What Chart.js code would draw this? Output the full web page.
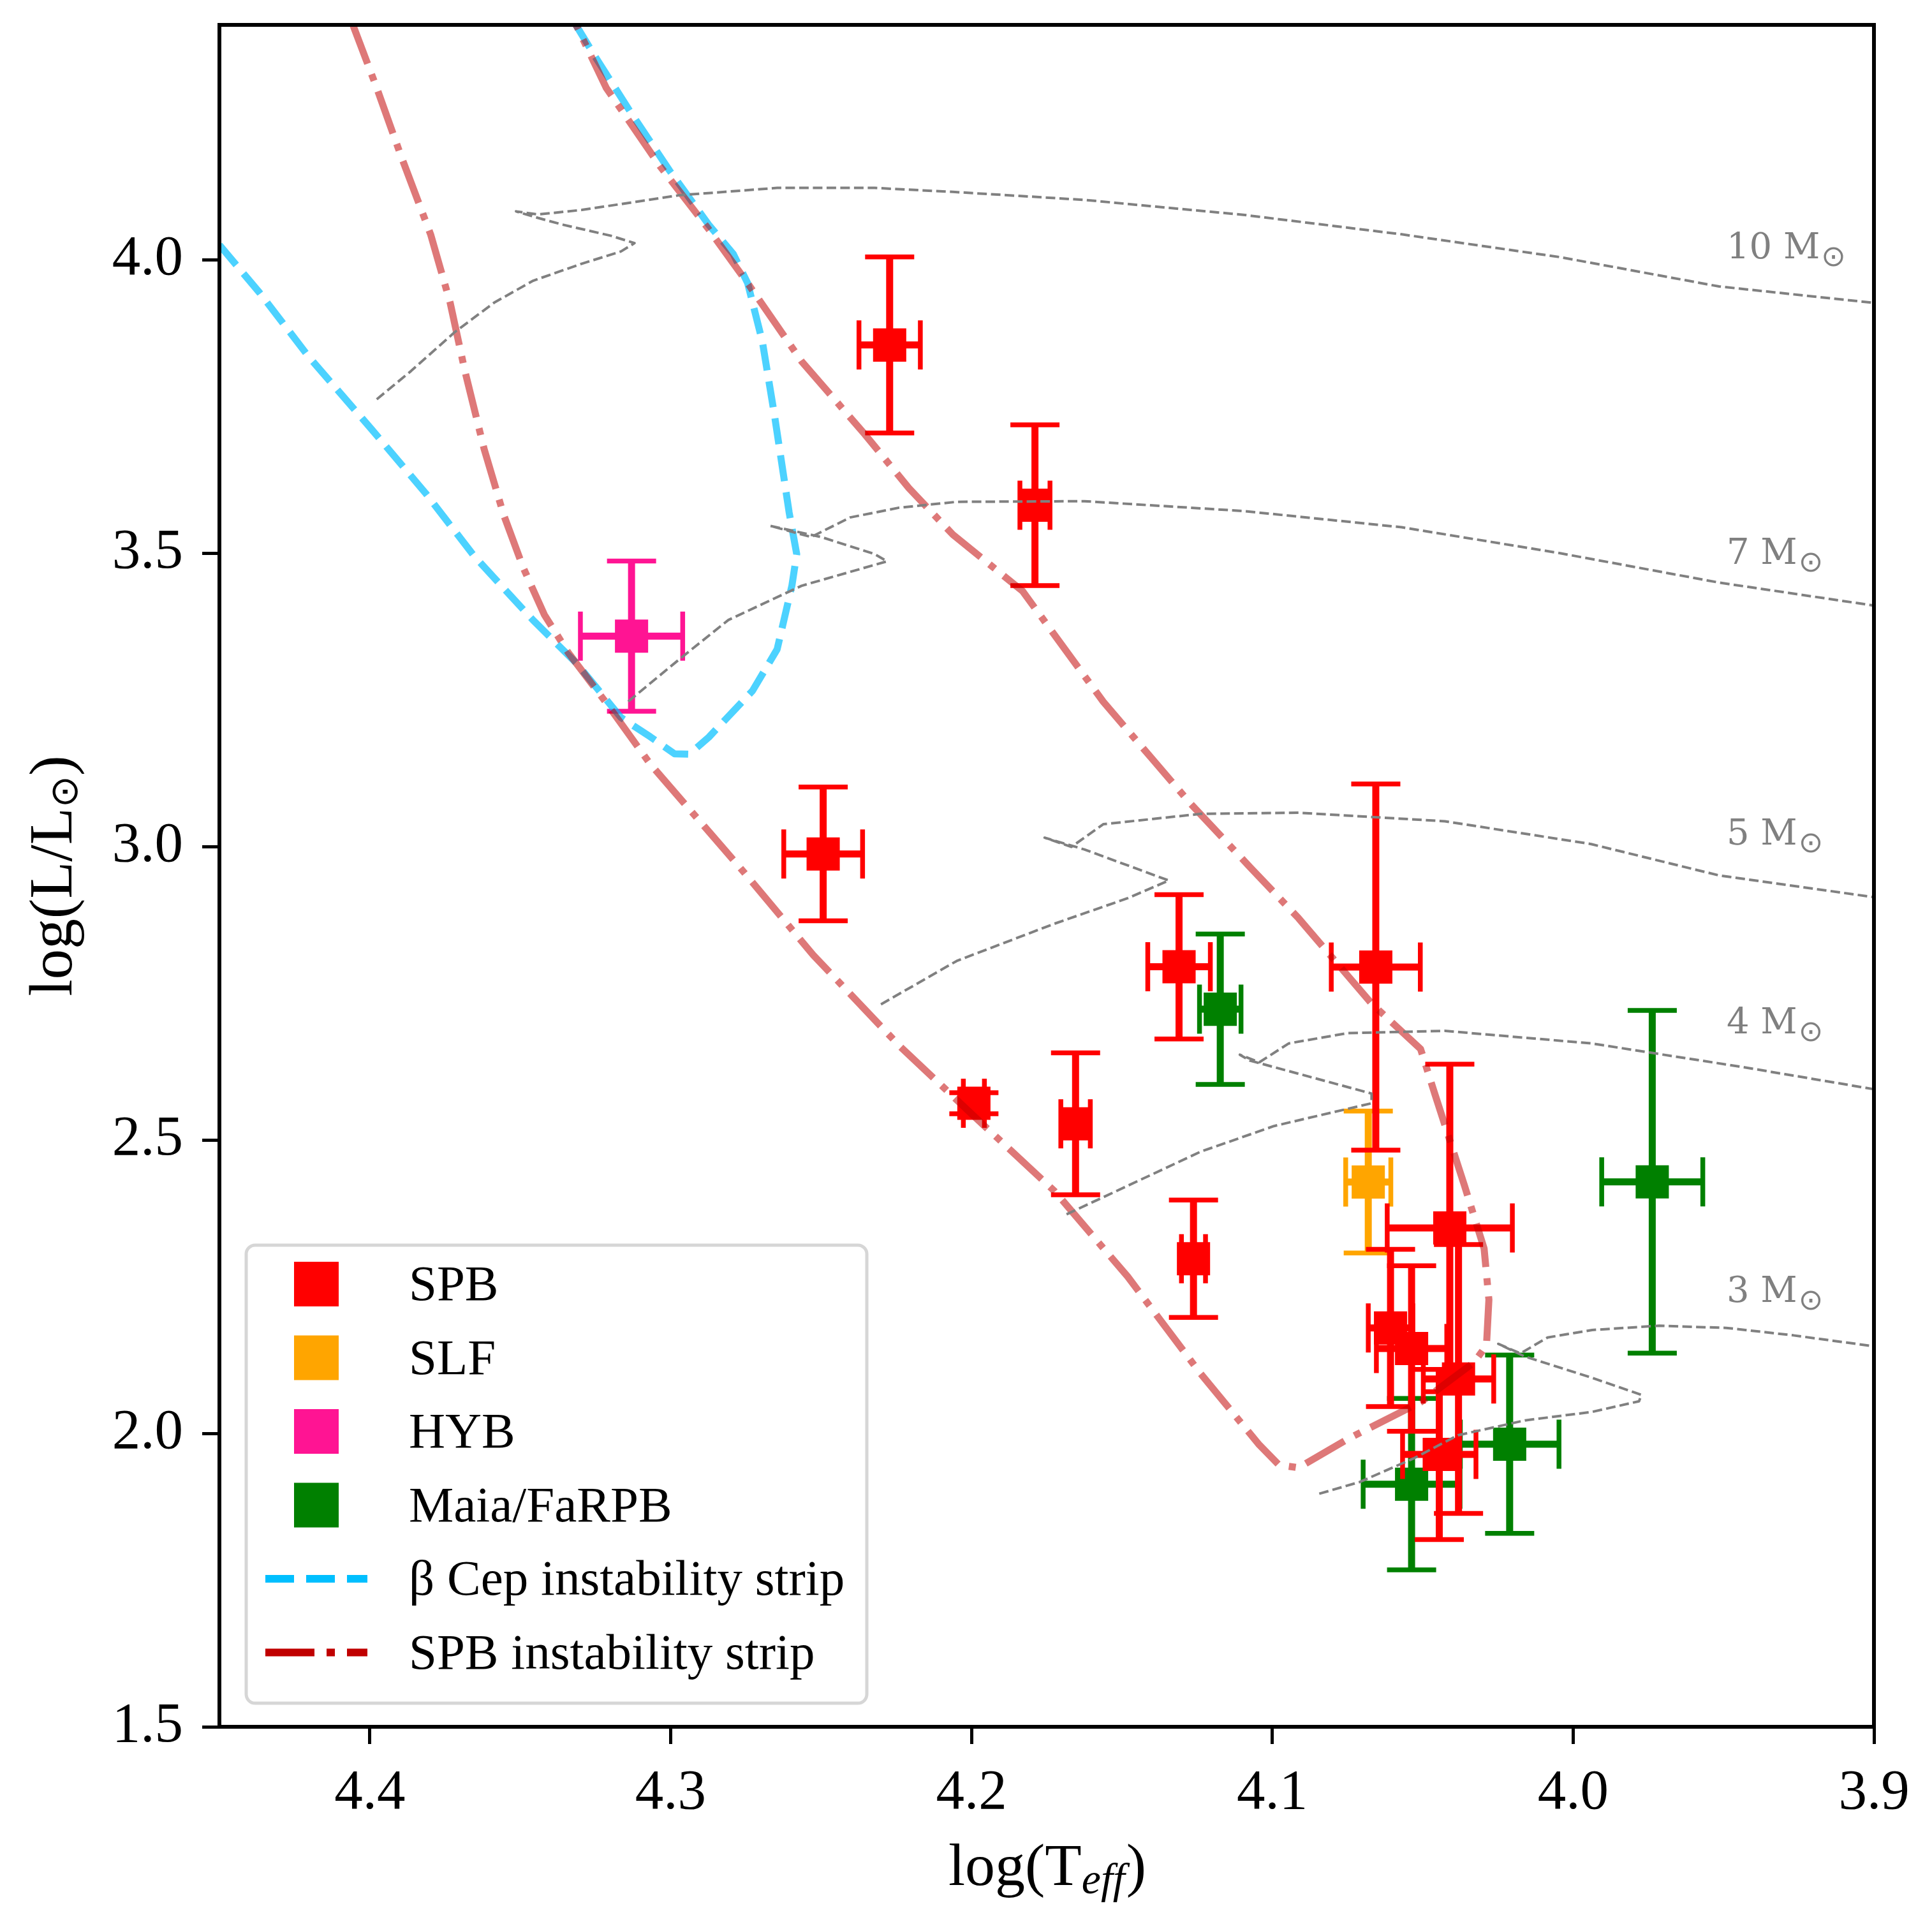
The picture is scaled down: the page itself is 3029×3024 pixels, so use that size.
<!DOCTYPE html>
<html>
<head>
<meta charset="utf-8">
<script src="https://cdn.jsdelivr.net/npm/chart.js@4.4.1/dist/chart.umd.min.js"></script>
<style>
html,body{margin:0;padding:0;background:#ffffff;}
canvas{display:block;}
</style>
</head>
<body>
<canvas id="hrd" width="3029" height="3024" style="width:3029px;height:3024px"></canvas>
<script>
// ---------------- data ----------------
const xTicks = [4.4, 4.3, 4.2, 4.1, 4.0, 3.9];
const yTicks = [1.5, 2.0, 2.5, 3.0, 3.5, 4.0];

// SPB stars
const spbTeff    = [4.2272, 4.1789, 4.2493, 4.1310, 4.0656, 4.1654, 4.1992, 4.1262, 4.0410, 4.0607, 4.0537, 4.0381, 4.0445];
const spbLum     = [3.8545, 3.5815, 2.9873, 2.7950, 2.7945, 2.5274, 2.5625, 2.2976, 2.3500, 2.1797, 2.1446, 2.0927, 1.9641];
const spbTeffErr = [0.0102, 0.0050, 0.0131, 0.0104, 0.0148, 0.0049, 0.0035, 0.0040, 0.0208, 0.0074, 0.0117, 0.0117, 0.0122];
const spbLumErr  = [0.150, 0.137, 0.114, 0.123, 0.312, 0.121, 0.018, 0.100, 0.279, 0.134, 0.141, 0.229, 0.145];

// SLF star
const slfTeff    = [4.0681];
const slfLum     = [2.4283];
const slfTeffErr = [0.0075];
const slfLumErr  = [0.121];

// Hybrid star
const hybTeff    = [4.3130];
const hybLum     = [3.3585];
const hybTeffErr = [0.0170];
const hybLumErr  = [0.128];

// Maia / FaRPB stars
const maiaTeff    = [4.1173, 3.9737, 4.0211, 4.0537];
const maiaLum     = [2.7227, 2.4286, 1.9815, 1.9134];
const maiaTeffErr = [0.0069, 0.0168, 0.0164, 0.0161];
const maiaLumErr  = [0.128, 0.292, 0.152, 0.146];

// beta Cep instability strip boundary
const bcepTeff = [4.4500, 4.4366, 4.4204, 4.3993, 4.3815, 4.3652, 4.3458, 4.3311, 4.3165, 4.3068, 4.2987, 4.2938, 4.2873,
                  4.2728, 4.2646, 4.2597, 4.2581, 4.2606, 4.2655, 4.2695, 4.2744, 4.2792, 4.2874, 4.3003, 4.3133, 4.3247, 4.3311, 4.3330];
const bcepLum  = [4.0250, 3.9433, 3.8351, 3.7103, 3.6022, 3.4941, 3.3860, 3.3111, 3.2196, 3.1870, 3.1580, 3.1572, 3.1863,
                  3.2652, 3.3360, 3.4442, 3.4983, 3.5689, 3.7353, 3.8600, 3.9599, 4.0098, 4.0598, 4.1512, 4.2511, 4.3426, 4.3966, 4.4100];

// SPB instability strip boundary
const spbsTeff = [4.4060, 4.3977, 4.3896, 4.3798, 4.3733, 4.3684, 4.3620, 4.3555, 4.3490, 4.3420, 4.3340, 4.3214, 4.3068, 4.2771,
                  4.2526, 4.2239, 4.1968, 4.1724, 4.1481, 4.1238, 4.1043, 4.0978, 4.0913, 4.0751, 4.0507, 4.0329, 4.0288,
                  4.0280, 4.0296, 4.0361, 4.0459, 4.0507, 4.0670, 4.0816, 4.0913, 4.1075, 4.1270, 4.1400, 4.1562, 4.1830,
                  4.2062, 4.2208, 4.2354, 4.2565, 4.2744, 4.2873, 4.3036, 4.3214, 4.3311, 4.3330];
const spbsLum  = [4.4050, 4.2926, 4.1762, 4.0431, 3.9266, 3.8102, 3.6772, 3.5650, 3.4750, 3.3950, 3.3300, 3.2446, 3.1406, 2.9650,
                  2.8150, 2.6600, 2.5291, 2.4128, 2.2672, 2.1015, 1.9802, 1.9463, 1.9414, 1.9899, 2.0531, 2.1210, 2.1501,
                  2.2277, 2.3151, 2.4218, 2.5772, 2.6548, 2.7324, 2.8197, 2.8779, 2.9653, 3.0720, 3.1497, 3.2467, 3.4350,
                  3.5315, 3.6105, 3.7020, 3.8268, 3.9599, 4.0514, 4.1596, 4.2926, 4.3966, 4.4100];

// evolutionary tracks
const track10Teff = [4.3977, 4.3863, 4.3717, 4.3587, 4.3457, 4.3295, 4.3165, 4.3120, 4.3198, 4.3360, 4.3449, 4.3514,
                     4.3440, 4.3295, 4.2971, 4.2646, 4.2322, 4.2062, 4.1625, 4.1097, 4.0570, 4.0043, 3.9515, 3.9005];
const track10Lum  = [3.7620, 3.8102, 3.8768, 3.9266, 3.9641, 3.9931, 4.0140, 4.0281, 4.0406, 4.0597, 4.0722, 4.0822,
                     4.0770, 4.0847, 4.1097, 4.1222, 4.1222, 4.1154, 4.1018, 4.0764, 4.0431, 4.0042, 3.9543, 3.9266];
const track7Teff  = [4.3141, 4.2970, 4.2808, 4.2565, 4.2281, 4.2322, 4.2500, 4.2670, 4.2533, 4.2403, 4.2241, 4.2049,
                     4.1625, 4.1097, 4.0570, 4.0043, 3.9515, 3.9005];
const track7Lum   = [3.2471, 3.3195, 3.3860, 3.4442, 3.4859, 3.4983, 3.5274, 3.5465, 3.5274, 3.5607, 3.5773, 3.5873,
                     3.5884, 3.5717, 3.5440, 3.4997, 3.4497, 3.4109];
const track5Teff  = [4.2301, 4.2049, 4.1725, 4.1480, 4.1344, 4.1625, 4.1757, 4.1668, 4.1562, 4.1238, 4.0913, 4.0426,
                     3.9940, 3.9515, 3.9005];
const track5Lum   = [2.7310, 2.8050, 2.8683, 2.9120, 2.9420, 2.9950, 3.0150, 2.9993, 3.0380, 3.0556, 3.0575, 3.0430,
                     3.0041, 2.9507, 2.9140];
const track4Teff  = [4.1684, 4.1562, 4.1400, 4.1238, 4.0994, 4.0670, 4.0670, 4.1075, 4.1108, 4.1043, 4.0945, 4.0751,
                     4.0426, 3.9940, 3.9427, 3.9005];
const track4Lum   = [2.3733, 2.4024, 2.4412, 2.4800, 2.5237, 2.5625, 2.5790, 2.6353, 2.6452, 2.6324, 2.6645, 2.6819,
                     2.6858, 2.6645, 2.6234, 2.5868];
const track3Teff  = [4.0844, 4.0710, 4.0532, 4.0383, 4.0160, 3.9937, 3.9781, 3.9773, 3.9937, 4.0160, 4.0249, 4.0175,
                     4.0085, 3.9937, 3.9714, 3.9491, 3.9268, 3.9007];
const track3Lum   = [1.8971, 1.9170, 1.9569, 1.9967, 2.0221, 2.0366, 2.0547, 2.0656, 2.0946, 2.1308, 2.1525, 2.1362,
                     2.1634, 2.1761, 2.1834, 2.1797, 2.1670, 2.1489];

// track labels (text and anchor in data coordinates)
const massLabels = ['10 M', '7 M', '5 M', '4 M', '3 M'];
const massLabelTeff = [3.949, 3.949, 3.949, 3.949, 3.949];
const massLabelLum  = [4.002, 3.481, 3.003, 2.682, 2.224];

// ---------------- helpers ----------------
const SERIF = "'Liberation Serif', 'Times New Roman', serif";
const toPts = (xs, ys) => xs.map((x, i) => ({x: x, y: ys[i]}));

function pointSet(label, xs, ys, ex, ey, color, order) {
  return {
    type: 'scatter', label: label, data: toPts(xs, ys), errX: ex, errY: ey,
    backgroundColor: color, borderColor: color, pointStyle: 'rect',
    pointRadius: 36.8, pointHoverRadius: 36.8, pointBorderWidth: 0, pointHoverBorderWidth: 0,
    showLine: false, order: order, legendKind: 'square'
  };
}
function lineSet(label, xs, ys, color, width, dash, order, extra) {
  return Object.assign({
    type: 'scatter', label: label, data: toPts(xs, ys), showLine: true,
    borderColor: color, backgroundColor: color, borderWidth: width, borderDash: dash,
    borderCapStyle: 'butt', borderJoinStyle: 'round', pointRadius: 0, pointHoverRadius: 0,
    tension: 0, fill: false, order: order, clip: 0
  }, extra || {});
}

const trackColor = '#808080';
const datasets = [
  lineSet('10', track10Teff, track10Lum, trackColor, 4, [15, 6.5], 0),
  lineSet('7',  track7Teff,  track7Lum,  trackColor, 4, [15, 6.5], 0),
  lineSet('5',  track5Teff,  track5Lum,  trackColor, 4, [15, 6.5], 0),
  lineSet('4',  track4Teff,  track4Lum,  trackColor, 4, [15, 6.5], 0),
  lineSet('3',  track3Teff,  track3Lum,  trackColor, 4, [15, 6.5], 0),
  lineSet('SPB instability strip', spbsTeff, spbsLum, 'rgba(192,0,0,0.53)', 11, [70, 17.6, 11, 17.6], 1,
          {legendKind: 'line', legendColor: 'rgb(192,0,0)', legendDash: [77, 19, 13, 19]}),
  lineSet('\u03B2 Cep instability strip', bcepTeff, bcepLum, 'rgba(0,191,255,0.7)', 11, [41, 17.6], 2,
          {legendKind: 'line', legendColor: 'rgb(0,191,255)', legendDash: [45, 19]}),
  pointSet('SPB', spbTeff, spbLum, spbTeffErr, spbLumErr, '#ff0000', 3),
  pointSet('Maia/FaRPB', maiaTeff, maiaLum, maiaTeffErr, maiaLumErr, '#008000', 4),
  pointSet('HYB', hybTeff, hybLum, hybTeffErr, hybLumErr, '#ff1493', 5),
  pointSet('SLF', slfTeff, slfLum, slfTeffErr, slfLumErr, '#ffa500', 6)
];
const legendOrder = ['SPB', 'SLF', 'HYB', 'Maia/FaRPB', '\u03B2 Cep instability strip', 'SPB instability strip'];

// ---------------- plugins ----------------
const errorBars = {
  id: 'errorBars',
  beforeDatasetDraw(chart, args) {
    const ds = chart.data.datasets[args.index];
    if (!ds.errX) return;
    const xs = chart.scales.x, ys = chart.scales.y, ctx = chart.ctx;
    const cap = 38.5;
    ctx.save();
    ctx.strokeStyle = ds.backgroundColor;
    ctx.lineCap = 'butt';
    ds.data.forEach((p, i) => {
      const px = xs.getPixelForValue(p.x), py = ys.getPixelForValue(p.y);
      const xa = xs.getPixelForValue(p.x + ds.errX[i]), xb = xs.getPixelForValue(p.x - ds.errX[i]);
      const ya = ys.getPixelForValue(p.y + ds.errY[i]), yb = ys.getPixelForValue(p.y - ds.errY[i]);
      ctx.lineWidth = 11;
      ctx.beginPath();
      ctx.moveTo(xa, py); ctx.lineTo(xb, py);
      ctx.moveTo(px, ya); ctx.lineTo(px, yb);
      ctx.stroke();
      ctx.lineWidth = 7.5;
      ctx.beginPath();
      ctx.moveTo(xa, py - cap); ctx.lineTo(xa, py + cap);
      ctx.moveTo(xb, py - cap); ctx.lineTo(xb, py + cap);
      ctx.moveTo(px - cap, ya); ctx.lineTo(px + cap, ya);
      ctx.moveTo(px - cap, yb); ctx.lineTo(px + cap, yb);
      ctx.stroke();
    });
    ctx.restore();
  }
};

const decorations = {
  id: 'decorations',
  afterDraw(chart) {
    const ctx = chart.ctx, ca = chart.chartArea;
    const xs = chart.scales.x, ys = chart.scales.y;
    ctx.save();

    // track labels
    ctx.fillStyle = '#808080';
    ctx.textAlign = 'left';
    ctx.textBaseline = 'alphabetic';
    massLabels.forEach((t, i) => {
      const px = xs.getPixelForValue(massLabelTeff[i]);
      const py = ys.getPixelForValue(massLabelLum[i]);
      ctx.font = "56px 'DejaVu Serif'";
      ctx.fillText(t, px, py);
      const w = ctx.measureText(t).width;
      ctx.font = "46px 'DejaVu Sans'";
      ctx.fillText('\u2299', px + w + 2, py + 12);
    });

    // frame (spines)
    ctx.strokeStyle = '#000';
    ctx.lineWidth = 6;
    ctx.lineJoin = 'miter';
    ctx.strokeRect(ca.left, ca.top, ca.right - ca.left, ca.bottom - ca.top);

    // x axis title: log(T_eff)
    ctx.fillStyle = '#000';
    const fMain = "94px " + SERIF, fSub = "italic 68px " + SERIF;
    ctx.font = fMain; const w1 = ctx.measureText('log(T').width; const w3 = ctx.measureText(')').width;
    ctx.font = fSub;  const w2 = ctx.measureText('eff').width;
    let x0 = (ca.left + ca.right) / 2 - (w1 + w2 + w3) / 2;
    const yb = ca.bottom + 248;
    ctx.font = fMain; ctx.fillText('log(T', x0, yb);
    ctx.font = fSub;  ctx.fillText('eff', x0 + w1, yb + 13);
    ctx.font = fMain; ctx.fillText(')', x0 + w1 + w2 + 2, yb);

    // y axis title: log(L/L_sun)
    ctx.save();
    ctx.translate(112, (ca.top + ca.bottom) / 2);
    ctx.rotate(-Math.PI / 2);
    const fY = "95px " + SERIF, fSun = "60px 'DejaVu Sans'";
    ctx.font = fY; const a1 = ctx.measureText('log(L/L').width; const a3 = ctx.measureText(')').width;
    ctx.font = fSun; const a2 = ctx.measureText('\u2299').width;
    let s = -(a1 + a2 + a3) / 2;
    ctx.font = fY; ctx.fillText('log(L/L', s, 0);
    ctx.font = fSun; ctx.fillText('\u2299', s + a1, 9);
    ctx.font = fY; ctx.fillText(')', s + a1 + a2, 0);
    ctx.restore();

    // legend
    const bx = ca.left + 42, by1 = ca.bottom - 37, bh = 718, bw = 973, by = by1 - bh;
    ctx.beginPath();
    if (ctx.roundRect) ctx.roundRect(bx, by, bw, bh, 14); else ctx.rect(bx, by, bw, bh);
    ctx.fillStyle = 'rgba(255,255,255,0.8)';
    ctx.fill();
    ctx.lineWidth = 5;
    ctx.strokeStyle = '#d6d6d6';
    ctx.stroke();
    ctx.font = "79px " + SERIF;
    legendOrder.forEach((name, i) => {
      const ds = chart.data.datasets.find(d => d.label === name);
      const cy = by + 61 + i * 115.5;
      if (ds.legendKind === 'square') {
        ctx.fillStyle = ds.backgroundColor;
        ctx.fillRect(bx + 75, cy - 35, 70, 70);
      } else {
        ctx.save();
        ctx.strokeStyle = ds.legendColor;
        ctx.lineWidth = 12;
        ctx.lineCap = 'butt';
        ctx.setLineDash(ds.legendDash);
        ctx.beginPath();
        ctx.moveTo(bx + 30, cy); ctx.lineTo(bx + 190, cy);
        ctx.stroke();
        ctx.restore();
      }
      ctx.fillStyle = '#000';
      ctx.textAlign = 'left';
      ctx.fillText(ds.label, bx + 255, cy + 25);
    });
    ctx.restore();
  }
};

// ---------------- chart ----------------
new Chart(document.getElementById('hrd'), {
  type: 'scatter',
  data: { datasets: datasets },
  options: {
    responsive: false,
    devicePixelRatio: 1,
    animation: false,
    events: [],
    layout: { padding: { left: 0, top: 39, right: 91, bottom: 0 } },
    plugins: { legend: { display: false }, tooltip: { enabled: false }, title: { display: false } },
    scales: {
      x: {
        type: 'linear', reverse: true, min: 3.9, max: 4.45,
        afterBuildTicks: s => { s.ticks = xTicks.map(v => ({ value: v })); },
        afterFit: s => { s.height = 317; s.paddingLeft = 0; s.paddingRight = 0; },
        grid: { display: true, drawOnChartArea: false, drawTicks: true, tickLength: 27, tickWidth: 5, tickColor: '#000' },
        border: { display: false },
        title: { display: false },
        ticks: { autoSkip: false, maxRotation: 0, minRotation: 0, padding: 24, color: '#000',
                 font: { family: SERIF, size: 89 }, callback: v => Number(v).toFixed(1) }
      },
      y: {
        type: 'linear', min: 1.5, max: 4.4,
        afterBuildTicks: s => { s.ticks = yTicks.map(v => ({ value: v })); },
        afterFit: s => { s.width = 344; s.paddingTop = 0; s.paddingBottom = 0; },
        grid: { display: true, drawOnChartArea: false, drawTicks: true, tickLength: 27, tickWidth: 5, tickColor: '#000' },
        border: { display: false },
        title: { display: false },
        ticks: { autoSkip: false, padding: 30, color: '#000',
                 font: { family: SERIF, size: 89 }, callback: v => Number(v).toFixed(1) }
      }
    }
  },
  plugins: [errorBars, decorations]
});
</script>
</body>
</html>
